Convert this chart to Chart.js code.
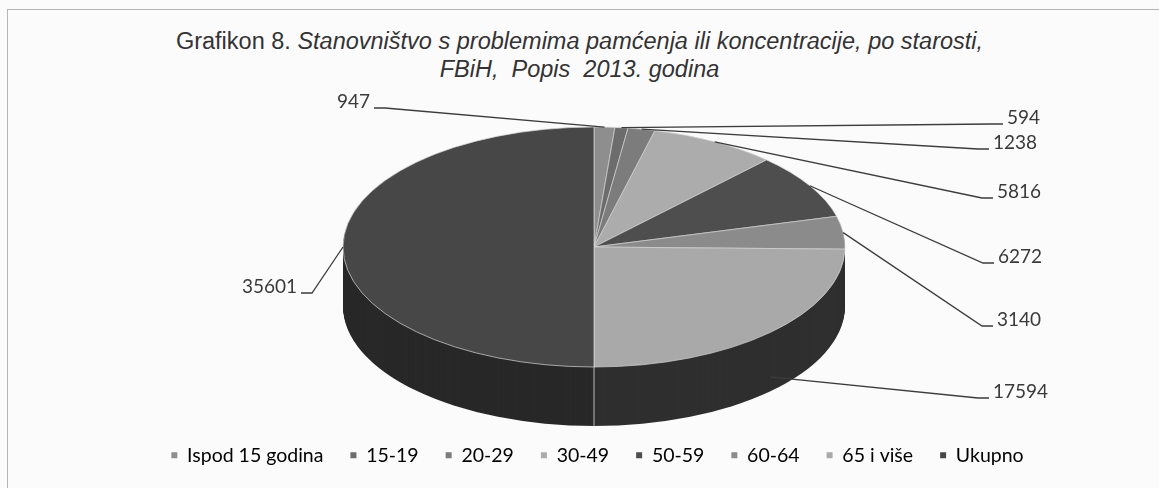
<!DOCTYPE html>
<html><head><meta charset="utf-8">
<script src="https://cdn.jsdelivr.net/npm/chart.js@4.4.1/dist/chart.umd.min.js"></script>
<style>
html,body{margin:0;padding:0;background:#fcfbfc;}
#wrap{position:relative;width:1159px;height:488px;overflow:hidden;background:#fcfbfc;}
#frame{position:absolute;left:7px;top:9px;width:1160px;height:490px;border:1px solid #b5b5b5;box-sizing:border-box;}
#title{position:absolute;left:0;width:1159px;top:27px;text-align:center;font-family:'Liberation Sans',Arial,sans-serif;font-size:23.5px;color:#333;line-height:28px;}
#title i{font-style:italic;}
canvas{position:absolute;left:0;top:0;}
</style></head>
<body><div id="wrap"><div id="frame"></div>
<div id="title">Grafikon 8. <i>Stanovništvo s problemima pamćenja ili koncentracije, po starosti,</i><br><i>FBiH,&nbsp; Popis&nbsp; 2013. godina</i></div>
<canvas id="c" width="1159" height="488"></canvas></div>
<script>
const categories = ['Ispod 15 godina','15-19','20-29','30-49','50-59','60-64','65 i više','Ukupno'];
const values = [947, 594, 1238, 5816, 6272, 3140, 17594, 35601];
const topColors = ['#8e8e8e','#6c6c6c','#7c7c7c','#acacac','#4e4e4e','#8b8b8b','#a9a9a9','#474747'];
const sideColors = ['#404040','#303030','#383838','#4c4c4c','#222222','#3e3e3e','#2f2f2f','#282828'];

// layout of the 3D ellipse (pixels)
const GEOM = {cx: 594, cy: 247, rx: 251, ry: 120, depth: 59};
// label placement (text anchor) and where the leader meets the pie
const LABEL_LAYOUT = [
  {x: 370, y: 102, side: 'left', depthFrac: 0},
  {x: 1007, y: 118, side: 'right', depthFrac: 0},
  {x: 993, y: 143, side: 'right', depthFrac: 0},
  {x: 997, y: 192, side: 'right', depthFrac: 0},
  {x: 998, y: 257, side: 'right', depthFrac: 0},
  {x: 997, y: 320, side: 'right', depthFrac: 0},
  {x: 993, y: 392, side: 'right', depthFrac: 0.75},
  {x: 297, y: 287, side: 'left', depthFrac: 0}
];

function toScreen(p, arc0) {
  const sx = GEOM.rx / arc0.outerRadius, sy = GEOM.ry / arc0.outerRadius;
  return {x: GEOM.cx + (p.x - arc0.x) * sx, y: GEOM.cy + (p.y - arc0.y) * sy};
}

const pie3d = {
  id: 'pie3d',
  beforeDatasetsDraw(chart) {
    const ctx = chart.ctx;
    const meta = chart.getDatasetMeta(0);
    const a0 = meta.data[0].getProps(['x','y','outerRadius'], true);
    const sx = GEOM.rx / a0.outerRadius, sy = GEOM.ry / a0.outerRadius;
    for (let d = GEOM.depth; d >= 1; d--) {
      ctx.save();
      ctx.translate(GEOM.cx, GEOM.cy + d);
      ctx.scale(sx, sy);
      ctx.translate(-a0.x, -a0.y);
      meta.data.forEach((arc, i) => {
        const p = arc.getProps(['x','y','startAngle','endAngle','outerRadius'], true);
        ctx.beginPath();
        ctx.moveTo(p.x, p.y);
        ctx.arc(p.x, p.y, p.outerRadius, p.startAngle, p.endAngle);
        ctx.closePath();
        ctx.fillStyle = sideColors[i];
        ctx.fill();
      });
      ctx.restore();
    }
    ctx.save();
    ctx.strokeStyle = '#b9b9b9';
    ctx.lineWidth = 1;
    meta.data.forEach((arc) => {
      const p = arc.getProps(['x','y','endAngle','outerRadius'], true);
      const a = p.endAngle % (Math.PI * 2);
      if (a > 0.15 && a < Math.PI - 0.15) {
        const s = toScreen({x: p.x + p.outerRadius * Math.cos(a), y: p.y + p.outerRadius * Math.sin(a)}, a0);
        ctx.beginPath();
        ctx.moveTo(s.x, s.y);
        ctx.lineTo(s.x, s.y + GEOM.depth);
        ctx.stroke();
      }
    });
    ctx.restore();
    ctx.save();
    ctx.translate(GEOM.cx, GEOM.cy);
    ctx.scale(sx, sy);
    ctx.translate(-a0.x, -a0.y);
    return true;
  },
  afterDatasetsDraw(chart) {
    const ctx = chart.ctx;
    ctx.restore();
    const meta = chart.getDatasetMeta(0);
    const a0 = meta.data[0].getProps(['x','y','outerRadius'], true);
    const vals = chart.data.datasets[0].data;
    ctx.save();
    ctx.font = '19px Lato, "Open Sans", sans-serif';
    ctx.fillStyle = '#3a3a3a';
    ctx.strokeStyle = '#3c3c3c';
    ctx.lineWidth = 1.3;
    ctx.textBaseline = 'middle';
    meta.data.forEach((arc, i) => {
      const p = arc.getProps(['x','y','startAngle','endAngle','outerRadius'], true);
      const mid = (p.startAngle + p.endAngle) / 2;
      const s = toScreen({x: p.x + p.outerRadius * Math.cos(mid), y: p.y + p.outerRadius * Math.sin(mid)}, a0);
      const L = LABEL_LAYOUT[i];
      s.y += L.depthFrac * GEOM.depth;
      let ex, ey = L.y + 6, bx;
      if (L.side === 'right') { ex = L.x - 4; bx = L.x - 15; ctx.textAlign = 'left'; }
      else { ex = L.x + 4; bx = L.x + 15; ctx.textAlign = 'right'; }
      ctx.beginPath();
      ctx.moveTo(ex, ey);
      ctx.lineTo(bx, ey);
      ctx.lineTo(s.x, s.y);
      ctx.stroke();
      ctx.fillText(String(vals[i]), L.x, L.y);
    });
    ctx.restore();
  }
};

new Chart(document.getElementById('c'), {
  type: 'pie',
  data: {
    labels: categories,
    datasets: [{
      data: values,
      backgroundColor: topColors,
      borderColor: '#d6d6d6',
      borderWidth: 0.8,
      clip: false
    }]
  },
  options: {
    responsive: false,
    animation: false,
    layout: {padding: {left: 36, right: 0, top: 0, bottom: 13}},
    plugins: {
      title: {display: false},
      tooltip: {enabled: false},
      legend: {
        display: true,
        position: 'bottom',
        labels: {
          boxWidth: 6,
          boxHeight: 6,
          padding: 27,
          color: '#404040',
          font: {family: 'Lato, "Open Sans", sans-serif', size: 19.5},
          generateLabels(chart) {
            return chart.data.labels.map((t, i) => ({
              text: t,
              fillStyle: topColors[i],
              strokeStyle: 'rgba(0,0,0,0)',
              lineWidth: 0,
              index: i,
              hidden: false
            }));
          }
        }
      }
    }
  },
  plugins: [pie3d]
});
</script>
</body></html>
